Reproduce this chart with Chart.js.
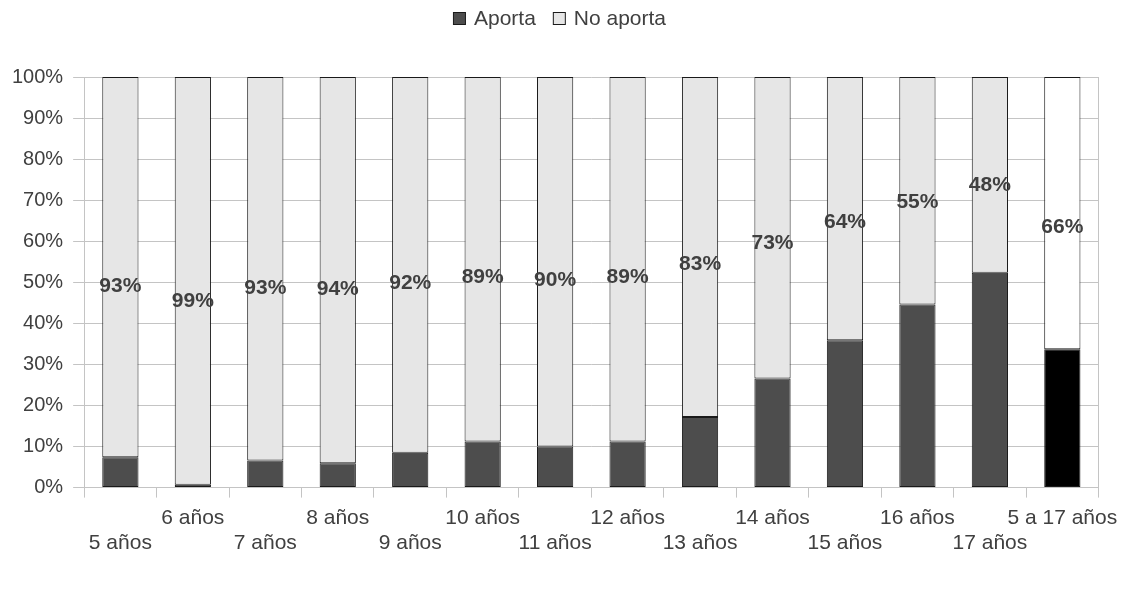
<!DOCTYPE html>
<html>
<head>
<meta charset="utf-8">
<script src="https://cdn.jsdelivr.net/npm/chart.js@4/dist/chart.umd.min.js"></script>
<style>
  html, body { margin: 0; padding: 0; background: #ffffff; }
  #wrap { width: 1123px; height: 599px; }
</style>
</head>
<body>
<div id="wrap"><canvas id="chart" width="1123" height="599"></canvas></div>
<script>
// Categorías (edad) - etiquetas escalonadas en dos filas
const edades = ['5 años', '6 años', '7 años', '8 años', '9 años', '10 años', '11 años',
    '12 años', '13 años', '14 años', '15 años', '16 años', '17 años', '5 a 17 años'];

// Porcentajes
const aporta = [7.4, 0.7, 6.6, 5.9, 8.5, 11.2, 10.0, 11.2, 17.2, 26.6, 35.9, 44.6, 52.3, 33.7];
const noAporta = [92.6, 99.3, 93.4, 94.1, 91.5, 88.8, 90.0, 88.8, 82.8, 73.4, 64.1, 55.4, 47.7, 66.3];

const yTicks = [0, 10, 20, 30, 40, 50, 60, 70, 80, 90, 100];

const textColor = '#404040';
const gridColor = '#c4c4c4';
const fontFamily = '"Liberation Sans", Arial, sans-serif';

// colores: el total (última barra) va en negro / blanco
const colorAporta = edades.map((e, i) => i === edades.length - 1 ? '#000000' : '#4d4d4d');
const colorNoAporta = edades.map((e, i) => i === edades.length - 1 ? '#ffffff' : '#e6e6e6');

// filas alternas para las etiquetas del eje X
const xLabels = edades.map((e, i) => i % 2 === 0 ? ['', e] : [e, '']);

// Etiquetas de porcentaje sobre la serie "No aporta"
const pctLabels = {
    id: 'pctLabels',
    afterDatasetsDraw(chart) {
        const ctx = chart.ctx;
        const meta = chart.getDatasetMeta(1);
        const y = chart.scales.y;
        ctx.save();
        ctx.font = 'bold 21px ' + fontFamily;
        ctx.fillStyle = textColor;
        ctx.textAlign = 'center';
        ctx.textBaseline = 'middle';
        meta.data.forEach((bar, i) => {
            const v = noAporta[i];
            const py = y.getPixelForValue(100 - v * 0.55);
            ctx.fillText(Math.round(v) + '%', bar.x, py);
        });
        ctx.restore();
    }
};

// Leyenda centrada arriba, al estilo Excel
const topLegend = {
    id: 'topLegend',
    afterDraw(chart) {
        const ctx = chart.ctx;
        const items = [
            { text: chart.data.datasets[0].label, fill: '#4d4d4d' },
            { text: chart.data.datasets[1].label, fill: '#e6e6e6' }
        ];
        const box = 12, gapText = 9, gapItem = 17, cy = 18;
        ctx.save();
        ctx.font = '21px ' + fontFamily;
        ctx.textBaseline = 'middle';
        ctx.textAlign = 'left';
        const widths = items.map(it => box + gapText + ctx.measureText(it.text).width);
        const total = widths.reduce((a, b) => a + b, 0) + gapItem * (items.length - 1);
        let x = (chart.width - total) / 2 - 2;
        items.forEach((it, i) => {
            ctx.fillStyle = it.fill;
            ctx.strokeStyle = '#1a1a1a';
            ctx.lineWidth = 1;
            ctx.fillRect(x + 0.5, cy - box / 2 + 0.5, box, box);
            ctx.strokeRect(x + 0.5, cy - box / 2 + 0.5, box, box);
            ctx.fillStyle = textColor;
            ctx.fillText(it.text, x + box + gapText, cy + 1);
            x += widths[i] + gapItem;
        });
        ctx.restore();
    }
};

const ctx = document.getElementById('chart').getContext('2d');
new Chart(ctx, {
    type: 'bar',
    data: {
        labels: xLabels,
        datasets: [
            {
                label: 'Aporta',
                data: aporta,
                backgroundColor: colorAporta,
                borderColor: '#1a1a1a',
                borderWidth: 1,
                borderSkipped: false,
                barPercentage: 0.5,
                categoryPercentage: 1
            },
            {
                label: 'No aporta',
                data: noAporta,
                backgroundColor: colorNoAporta,
                borderColor: '#1a1a1a',
                borderWidth: 1,
                borderSkipped: false,
                barPercentage: 0.5,
                categoryPercentage: 1
            }
        ]
    },
    options: {
        responsive: false,
        animation: false,
        devicePixelRatio: 1,
        layout: {
            padding: { left: 2, right: 19, top: 77, bottom: 35 }
        },
        plugins: {
            tooltip: { enabled: false },
            legend: { display: false }
        },
        scales: {
            x: {
                stacked: true,
                // la última etiqueta puede sobresalir un poco a la derecha
                afterFit: scale => { scale.paddingRight = Math.max(0, scale.paddingRight - 3); },
                grid: {
                    offset: true,
                    drawOnChartArea: false,
                    drawTicks: true,
                    tickLength: 10,
                    color: gridColor
                },
                border: { color: gridColor },
                ticks: {
                    color: textColor,
                    font: { size: 21, family: fontFamily },
                    autoSkip: false,
                    maxRotation: 0,
                    padding: 8
                }
            },
            y: {
                stacked: true,
                min: 0,
                max: 100,
                afterBuildTicks: axis => { axis.ticks = yTicks.map(v => ({ value: v })); },
                grid: {
                    color: gridColor,
                    tickLength: 11
                },
                border: { color: gridColor },
                ticks: {
                    color: textColor,
                    font: { size: 20, family: fontFamily },
                    padding: 10,
                    callback: v => v + '%'
                }
            },
            y2: {
                position: 'right',
                min: 0,
                max: 100,
                grid: { drawOnChartArea: false, drawTicks: false },
                border: { color: gridColor },
                ticks: { display: false }
            }
        }
    },
    plugins: [pctLabels, topLegend]
});
</script>
</body>
</html>
